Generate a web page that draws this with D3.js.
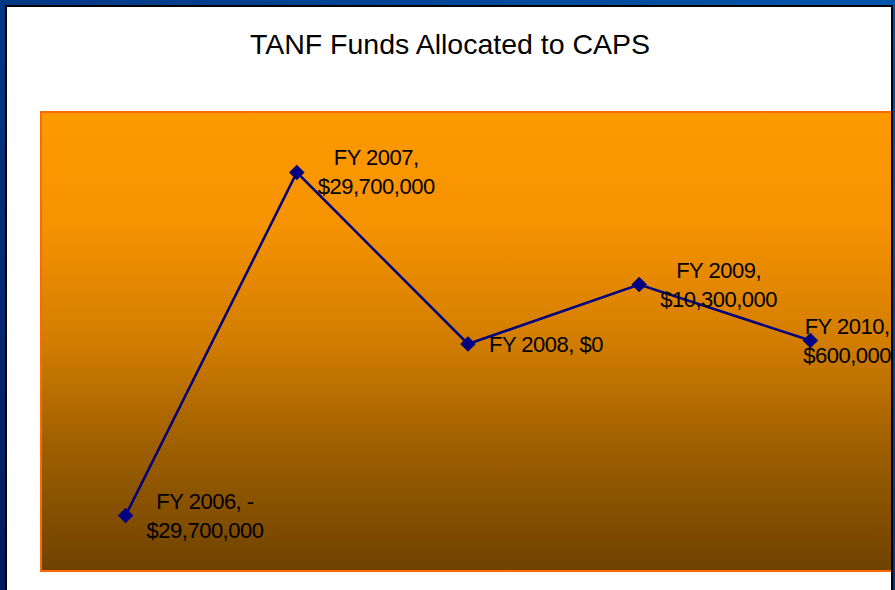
<!DOCTYPE html>
<html><head><meta charset="utf-8">
<script src="https://cdn.jsdelivr.net/npm/d3@7"></script>
<style>html,body{margin:0;padding:0;background:#fff;}svg{display:block;}</style>
</head><body>
<script>
const categories = ["FY 2006", "FY 2007", "FY 2008", "FY 2009", "FY 2010"];
const values = [-29700000, 29700000, 0, 10300000, 600000];
const labelLines = [
  ["FY 2006, -", "$29,700,000"],
  ["FY 2007,", "$29,700,000"],
  ["FY 2008, $0"],
  ["FY 2009,", "$10,300,000"],
  ["FY 2010,", "$600,000"]
];
const title = "TANF Funds Allocated to CAPS";

const W = 895, H = 590;
const svg = d3.select("body").append("svg").attr("width", W).attr("height", H);
const defs = svg.append("defs");

const bg = defs.append("linearGradient").attr("id","bg").attr("x1","1").attr("y1","0").attr("x2","0").attr("y2","1");
bg.append("stop").attr("offset","0").attr("stop-color","#0055ab");
bg.append("stop").attr("offset","1").attr("stop-color","#001a5e");

const pg = defs.append("linearGradient").attr("id","pg").attr("x1","0").attr("y1","0").attr("x2","0").attr("y2","1");
[[0,"#fd9a00"],[0.25,"#f59200"],[0.5,"#d27d00"],[0.72,"#a06000"],[0.88,"#844f00"],[1,"#6e4200"]]
  .forEach(([o,c]) => pg.append("stop").attr("offset",o).attr("stop-color",c));

defs.append("clipPath").attr("id","panel").append("rect").attr("x",7).attr("y",7).attr("width",885).attr("height",H);

svg.append("rect").attr("width",W).attr("height",H).attr("fill","url(#bg)");
svg.append("rect").attr("x",7).attr("y",7).attr("width",885).attr("height",H).attr("fill","#fff");

const g = svg.append("g").attr("clip-path","url(#panel)");

const plot = {x0: 40, x1: 896, y0: 111, y1: 572};
g.append("rect").attr("x",plot.x0+1).attr("y",plot.y0+1).attr("width",plot.x1-plot.x0-2).attr("height",plot.y1-plot.y0-2)
  .attr("fill","url(#pg)").attr("stroke","#ff6a00").attr("stroke-width",2);

const x = d3.scaleBand().domain(categories).range([plot.x0, plot.x1]);
const y = d3.scaleLinear().domain([-40000000, 40000000]).range([575, 113]);
const cx = d => x(d) + x.bandwidth()/2;

const data = categories.map((c,i) => ({c, v: values[i], lines: labelLines[i]}));

g.append("path").datum(data)
  .attr("d", d3.line().x(d => cx(d.c)).y(d => y(d.v)))
  .attr("fill","none").attr("stroke","#000080").attr("stroke-width",2.5);

g.selectAll(".pt").data(data).enter().append("path")
  .attr("d", d3.symbol(d3.symbolSquare, 120)())
  .attr("transform", d => `translate(${cx(d.c)},${y(d.v)}) rotate(45)`)
  .attr("fill","#000080");

const font = "Liberation Sans, Arial, sans-serif";
const lab = g.selectAll(".lab").data(data).enter().append("text")
  .attr("font-family", font).attr("font-size", 22).attr("letter-spacing", -0.5)
  .attr("fill","#000").attr("text-anchor","middle");
lab.each(function(d){
  const t = d3.select(this);
  const px = cx(d.c), py = y(d.v);
  const spans = d.lines.map((l) => t.append("tspan").text(l));
  const w = d3.max(spans, s => s.node().getComputedTextLength());
  let mx = px + 21 + w/2;
  if (mx + w/2 > 891) mx = 891 - w/2;
  if (d.lines.length === 1) {
    spans[0].attr("x", mx).attr("y", py + 8);
  } else {
    spans[0].attr("x", mx).attr("y", py - 7);
    spans[1].attr("x", mx).attr("y", py + 22);
  }
});

svg.append("text").attr("x", 450).attr("y", 54).attr("text-anchor","middle")
  .attr("font-family", font).attr("font-size", 28.5).attr("fill","#000").text(title);

// panel black border
svg.append("path").attr("d", `M6,${H} V6 H892 V${H}`).attr("fill","none").attr("stroke","#000").attr("stroke-width",2);
</script>
</body></html>
